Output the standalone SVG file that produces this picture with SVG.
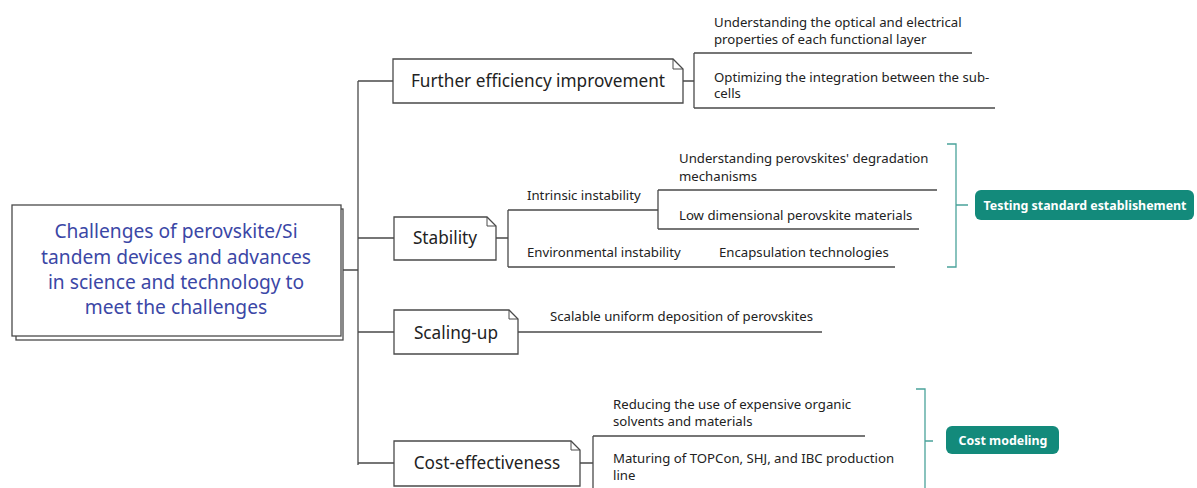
<svg xmlns="http://www.w3.org/2000/svg" width="1197" height="488" viewBox="0 0 1197 488">
<style>
.ln{fill:none;stroke:#4a4a4a;stroke-width:1.3}
.box{fill:#fff;stroke:#4a4a4a;stroke-width:1.3}
.fold{fill:none;stroke:#4a4a4a;stroke-width:1}
.tl{fill:none;stroke:#4aa39a;stroke-width:1.3}
.main{font-family:"Noto Sans","Liberation Sans",sans-serif;font-size:17.2px;fill:#222;text-anchor:middle}
.sm{font-family:"Noto Sans","Liberation Sans",sans-serif;font-size:13.2px;fill:#222}
.root{font-family:"Noto Sans","Liberation Sans",sans-serif;font-size:19.2px;fill:#3b47a6;text-anchor:middle}
.btn{fill:#138a7b}
.bt{font-family:"Noto Sans","Liberation Sans",sans-serif;font-size:12.4px;font-weight:bold;fill:#fff;text-anchor:middle}
</style>
<rect width="1197" height="488" fill="#fff"/>
<g id="connectors">
<path class="ln" d="M358,81 V465 M340,270 H358 M358,81 H393 M358,238 H394 M358,332 H394 M358,463 H394"/>
<path class="ln" d="M683,81 H694 M694,53 V108 M694,53 H972 M694,108 H995"/>
<path class="ln" d="M496,238 H508 M508,210 V267 M508,210 H658 M658,190 V229 M658,190 H937 M658,229 H919 M508,267 H895"/>
<path class="ln" d="M518,332 H822"/>
<path class="ln" d="M580,463 H593 M593,436 V488 M593,436 H865"/>
<path class="tl" d="M947,144 H956 V267 H947 M956,205 H968"/>
<path class="tl" d="M916,389 H925 V488 M925,441 H933"/>
</g>
<g id="root">
<rect class="box" x="16" y="209" width="327" height="131"/>
<rect class="box" x="12" y="205" width="329" height="131"/>
<text class="root" x="176" y="238">Challenges of perovskite/Si</text>
<text class="root" x="176" y="264">tandem devices and advances</text>
<text class="root" x="176" y="289">in science and technology to</text>
<text class="root" x="176" y="314">meet the challenges</text>
</g>
<g id="efficiency">
<path class="box" d="M393,59 H673 L683,69 V103 H393 Z"/>
<path class="fold" d="M673,59 V69 H683"/>
<text class="main" x="538" y="87">Further efficiency improvement</text>
<text class="sm" x="714" y="27">Understanding the optical and electrical</text>
<text class="sm" x="714" y="44">properties of each functional layer</text>
<text class="sm" x="714" y="82">Optimizing the integration between the sub-</text>
<text class="sm" x="714" y="98">cells</text>
</g>
<g id="stability">
<path class="box" d="M394,217 H487 L496,226 V260 H394 Z"/>
<path class="fold" d="M487,217 V226 H496"/>
<text class="main" x="445" y="244">Stability</text>
<text class="sm" x="527" y="200">Intrinsic instability</text>
<text class="sm" x="679" y="163">Understanding perovskites' degradation</text>
<text class="sm" x="679" y="181">mechanisms</text>
<text class="sm" x="679" y="220">Low dimensional perovskite materials</text>
<text class="sm" x="527" y="257">Environmental instability</text>
<text class="sm" x="719" y="257">Encapsulation technologies</text>
</g>
<g id="scaling">
<path class="box" d="M394,310 H509 L518,319 V354 H394 Z"/>
<path class="fold" d="M509,310 V319 H518"/>
<text class="main" x="456" y="339">Scaling-up</text>
<text class="sm" x="550" y="321">Scalable uniform deposition of perovskites</text>
</g>
<g id="cost">
<path class="box" d="M394,441 H571 L580,450 V486 H394 Z"/>
<path class="fold" d="M571,441 V450 H580"/>
<text class="main" x="487" y="469">Cost-effectiveness</text>
<text class="sm" x="613" y="409">Reducing the use of expensive organic</text>
<text class="sm" x="613" y="426">solvents and materials</text>
<text class="sm" x="613" y="463">Maturing of TOPCon, SHJ, and IBC production</text>
<text class="sm" x="613" y="480">line</text>
</g>
<g id="testing">
<rect class="btn" x="975" y="190" width="219" height="30" rx="6"/>
<text class="bt" x="1085" y="210">Testing standard establishement</text>
</g>
<g id="costmodel">
<rect class="btn" x="946" y="426" width="113" height="28" rx="6"/>
<text class="bt" x="1003" y="445">Cost modeling</text>
</g>
</svg>
